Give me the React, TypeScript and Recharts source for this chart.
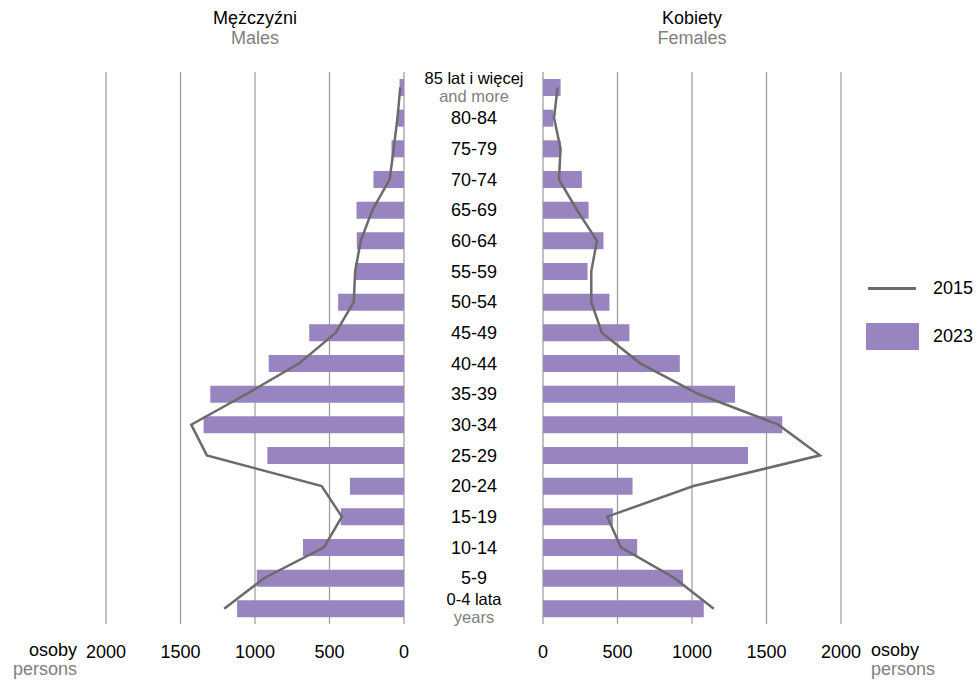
import {
  ComposedChart,
  Bar,
  Line,
  XAxis,
  YAxis,
  CartesianGrid,
} from "recharts";

const AGE_LABELS = [
  "85 lat i więcej", "80-84", "75-79", "70-74", "65-69", "60-64", "55-59", "50-54", "45-49",
  "40-44", "35-39", "30-34", "25-29", "20-24", "15-19", "10-14", "5-9", "0-4 lata",
];
const AGE_SUBLABELS: Record<string, string> = { "85 lat i więcej": "and more", "0-4 lata": "years" };

const MALES_2023 = [30, 40, 84, 205, 319, 317, 330, 442, 636, 908, 1300, 1345, 917, 363, 424, 678, 988, 1120];
const MALES_2015 = [25, 44, 69, 96, 212, 290, 328, 337, 458, 703, 1057, 1428, 1323, 553, 417, 537, 937, 1207];
const FEMALES_2023 = [118, 69, 118, 261, 306, 406, 299, 446, 580, 918, 1289, 1606, 1376, 601, 469, 632, 940, 1079];
const FEMALES_2015 = [98, 74, 118, 107, 228, 362, 324, 324, 395, 652, 1043, 1579, 1859, 1010, 431, 523, 882, 1146];

const X_TICKS = [0, 500, 1000, 1500, 2000];
const SERIES = ["2015", "2023"];

const FONT = "'Liberation Sans', Arial, sans-serif";
const BAR_COLOR = "#9884bf";
const LINE_COLOR = "#6b6b6b";
const GREY_TEXT = "#808080";

const maleData = AGE_LABELS.map((age, i) => ({ age, y2023: MALES_2023[i], y2015: MALES_2015[i] }));
const femaleData = AGE_LABELS.map((age, i) => ({ age, y2023: FEMALES_2023[i], y2015: FEMALES_2015[i] }));

const LABEL_X = 64; // middle of the gap between the two halves, in right-chart coords

function AgeTick({ y, payload }: { y?: number; payload?: { value: string } }) {
  const label = payload?.value ?? "";
  const sub = AGE_SUBLABELS[label];
  if (sub) {
    // two-line labels sit a bit tighter, as in the source
    return (
      <g>
        <text x={LABEL_X} y={(y ?? 0) - 9} dy="0.35em" textAnchor="middle" fontSize={16.5} fill="#000">
          {label}
        </text>
        <text x={LABEL_X} y={(y ?? 0) + 9} dy="0.35em" textAnchor="middle" fontSize={16.5} fill={GREY_TEXT}>
          {sub}
        </text>
      </g>
    );
  }
  return (
    <text x={LABEL_X} y={y} dy="0.35em" textAnchor="middle" fontSize={18} fill="#000">
      {label}
    </text>
  );
}

function LegendBox() {
  return (
    <div style={{ position: "absolute", left: 866, top: 274, fontFamily: FONT, fontSize: 18, color: "#000" }}>
      <div style={{ display: "flex", alignItems: "center", height: 28, marginBottom: 20 }}>
        <div style={{ width: 48, height: 3, background: LINE_COLOR, marginLeft: 2 }} />
        <span style={{ marginLeft: 17 }}>{SERIES[0]}</span>
      </div>
      <div style={{ display: "flex", alignItems: "center", height: 28 }}>
        <div style={{ width: 53, height: 27, background: BAR_COLOR }} />
        <span style={{ marginLeft: 14 }}>{SERIES[1]}</span>
      </div>
    </div>
  );
}

const axisTick = { fill: "#000", fontSize: 18 };

export default function App() {
  return (
    <div style={{ position: "absolute", left: 0, top: 0, width: 976, height: 680, background: "#fff", fontFamily: FONT }}>
      <div style={{ position: "absolute", left: 155, width: 200, top: 8, textAlign: "center", fontSize: 18, lineHeight: "20px" }}>
        <div style={{ color: "#000" }}>Mężczyźni</div>
        <div style={{ color: GREY_TEXT }}>Males</div>
      </div>
      <div style={{ position: "absolute", left: 592, width: 200, top: 8, textAlign: "center", fontSize: 18, lineHeight: "20px" }}>
        <div style={{ color: "#000" }}>Kobiety</div>
        <div style={{ color: GREY_TEXT }}>Females</div>
      </div>

      <div style={{ position: "absolute", right: 976 - 77, top: 641, textAlign: "right", fontSize: 18, lineHeight: "19px" }}>
        <div style={{ color: "#000" }}>osoby</div>
        <div style={{ color: GREY_TEXT }}>persons</div>
      </div>
      <div style={{ position: "absolute", left: 871, top: 641, fontSize: 18, lineHeight: "19px" }}>
        <div style={{ color: "#000" }}>osoby</div>
        <div style={{ color: GREY_TEXT }}>persons</div>
      </div>

      <div style={{ position: "absolute", left: 0, top: 0 }}>
        <ComposedChart
          width={410}
          height={680}
          data={maleData}
          layout="vertical"
          margin={{ top: 72, right: 6, bottom: 0, left: 106 }}
          style={{ fontFamily: FONT }}
        >
          <CartesianGrid horizontal={false} stroke="#9a9a9a" strokeWidth={1.2} />
          <XAxis
            type="number"
            domain={[0, 2000]}
            ticks={X_TICKS}
            reversed
            axisLine={false}
            tickLine={false}
            tickSize={0}
            tickMargin={21}
            height={56}
            tick={axisTick}
            interval={0}
          />
          <YAxis type="category" dataKey="age" hide />
          <Bar dataKey="y2023" fill={BAR_COLOR} barSize={17} isAnimationActive={false} />
          <Line
            dataKey="y2015"
            stroke={LINE_COLOR}
            strokeWidth={2.5}
            dot={false}
            type="linear"
            isAnimationActive={false}
          />
        </ComposedChart>
      </div>

      <div style={{ position: "absolute", left: 410, top: 0 }}>
        <ComposedChart
          width={566}
          height={680}
          data={femaleData}
          layout="vertical"
          margin={{ top: 72, right: 135, bottom: 0, left: 0 }}
          style={{ fontFamily: FONT }}
        >
          <CartesianGrid horizontal={false} stroke="#9a9a9a" strokeWidth={1.2} />
          <XAxis
            type="number"
            domain={[0, 2000]}
            ticks={X_TICKS}
            axisLine={false}
            tickLine={false}
            tickSize={0}
            tickMargin={21}
            height={56}
            tick={axisTick}
            interval={0}
          />
          <YAxis
            type="category"
            dataKey="age"
            width={133}
            axisLine={false}
            tickLine={false}
            interval={0}
            tick={<AgeTick />}
          />
          <Bar dataKey="y2023" fill={BAR_COLOR} barSize={17} isAnimationActive={false} />
          <Line
            dataKey="y2015"
            stroke={LINE_COLOR}
            strokeWidth={2.5}
            dot={false}
            type="linear"
            isAnimationActive={false}
          />
        </ComposedChart>
      </div>

      <LegendBox />
    </div>
  );
}
